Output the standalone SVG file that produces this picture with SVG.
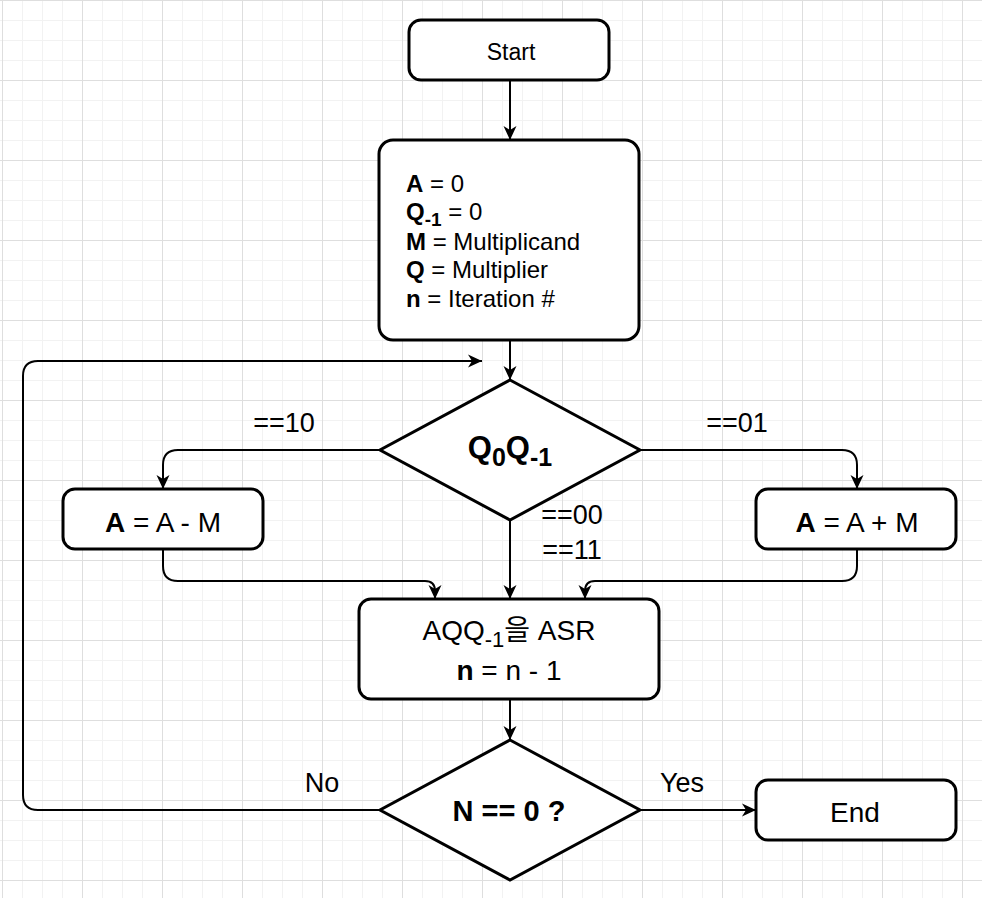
<svg xmlns="http://www.w3.org/2000/svg" width="982" height="898" viewBox="0 0 982 898">
  <defs>
    <pattern id="grid" x="2" y="0" width="80" height="80" patternUnits="userSpaceOnUse">
      <path d="M20.5,0 V80 M40.5,0 V80 M60.5,0 V80 M0,20.5 H80 M0,40.5 H80 M0,60.5 H80" stroke="#f2f2f2" stroke-width="1" fill="none"/>
      <path d="M0.5,0 V80 M0,0.5 H80" stroke="#dedede" stroke-width="1" fill="none"/>
    </pattern>
    <marker id="arrow" viewBox="0 0 16 16" refX="15" refY="8" markerWidth="16" markerHeight="16" markerUnits="userSpaceOnUse" orient="auto">
      <path d="M1,1.5 L15,8 L1,14.5 L5,8 z" fill="#000"/>
    </marker>
    <style>
      .node { fill: #fff; stroke: #000; stroke-width: 3; }
      .edge { fill: none; stroke: #000; stroke-width: 2; marker-end: url(#arrow); }
      text { font-family: "Liberation Sans", "Noto Sans CJK KR", sans-serif; fill: #000; }
      .c { text-anchor: middle; }
      .b { font-weight: bold; }
    </style>
  </defs>

  <rect width="982" height="898" fill="#fff"/>
  <rect width="982" height="898" fill="url(#grid)"/>

  <!-- connectors -->
  <g id="connectors">
    <path class="edge" d="M510,81 L510,140"/>
    <path class="edge" d="M510,341 L510,380"/>
    <path class="edge" d="M380,450 L178,450 Q163,450 163,465 L163,489"/>
    <path class="edge" d="M640,450 L842,450 Q857,450 857,465 L857,489"/>
    <path class="edge" d="M163,550 L163,566 Q163,581 178,581 L425,581 Q435,581 435,591 L435,599"/>
    <path class="edge" d="M857,550 L857,566 Q857,581 842,581 L595,581 Q585,581 585,591 L585,599"/>
    <path class="edge" d="M510,520 L510,599"/>
    <path class="edge" d="M510,700 L510,740"/>
    <path class="edge" d="M640,810 L756,810"/>
    <path class="edge" d="M380,810 L38,810 Q23,810 23,795 L23,376 Q23,361 38,361 L482,361"/>
    <text class="c" x="284" y="432" font-size="27">==10</text>
    <text class="c" x="737" y="432" font-size="27">==01</text>
    <text class="c" x="572" y="524" font-size="27">==00</text>
    <text class="c" x="572" y="559" font-size="27">==11</text>
    <text class="c" x="322" y="792" font-size="27">No</text>
    <text class="c" x="682" y="792" font-size="27">Yes</text>
  </g>

  <g id="start">
    <rect class="node" x="409" y="20" width="200" height="60" rx="12"/>
    <text class="c" x="511" y="60" font-size="23">Start</text>
  </g>

  <g id="init">
    <rect class="node" x="379" y="140" width="260" height="200" rx="14"/>
    <text x="406" y="192" font-size="24"><tspan class="b">A</tspan> = 0</text>
    <text x="406" y="220" font-size="24"><tspan class="b">Q</tspan><tspan class="b" font-size="19" dy="6">-1</tspan><tspan dy="-6"> = 0</tspan></text>
    <text x="406" y="250" font-size="24"><tspan class="b">M</tspan> = Multiplicand</text>
    <text x="406" y="278" font-size="24"><tspan class="b">Q</tspan> = Multiplier</text>
    <text x="406" y="307" font-size="24"><tspan class="b">n</tspan> = Iteration #</text>
  </g>

  <g id="check-bits">
    <polygon class="node" points="510,380 640,450 510,520 380,450"/>
    <text class="c b" x="510" y="458" font-size="31">Q<tspan font-size="25" dy="8">0</tspan><tspan dy="-8">Q</tspan><tspan font-size="25" dy="8">-1</tspan></text>
  </g>

  <g id="subtract">
    <rect class="node" x="63" y="489" width="200" height="60" rx="12"/>
    <text class="c" x="163" y="532" font-size="28"><tspan class="b">A</tspan> = A - M</text>
  </g>

  <g id="add">
    <rect class="node" x="756" y="489" width="200" height="60" rx="12"/>
    <text class="c" x="857" y="532" font-size="28"><tspan class="b">A</tspan> = A + M</text>
  </g>

  <g id="shift">
    <rect class="node" x="359" y="599" width="300" height="100" rx="12"/>
    <text class="c" x="509" y="640" font-size="28">AQQ<tspan font-size="22" dy="7">-1</tspan><tspan dy="-7">을 ASR</tspan></text>
    <text class="c" x="509" y="680" font-size="28"><tspan class="b">n</tspan> = n - 1</text>
  </g>

  <g id="check-count">
    <polygon class="node" points="510,740 640,810 510,880 380,810"/>
    <text class="c b" x="509" y="821" font-size="29">N == 0 ?</text>
  </g>

  <g id="end">
    <rect class="node" x="756" y="780" width="200" height="60" rx="12"/>
    <text class="c" x="855" y="822" font-size="28">End</text>
  </g>
</svg>
